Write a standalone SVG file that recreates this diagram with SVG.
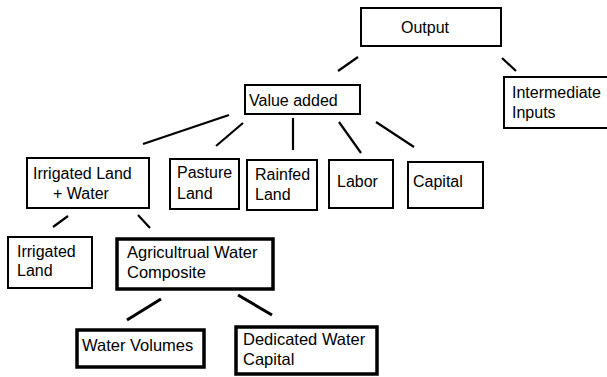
<svg xmlns="http://www.w3.org/2000/svg" width="607" height="377" viewBox="0 0 607 377">
<style>
.box{fill:#fff;stroke:#000;stroke-width:2}
.thick{fill:#fff;stroke:#000;stroke-width:3.5}
.t{font-family:"Liberation Sans",Arial,sans-serif;font-size:16px;fill:#000}
.tb{font-family:"Liberation Sans",Arial,sans-serif;font-size:16.5px;fill:#000}
.c line{stroke:#000;stroke-width:2.2;stroke-linecap:butt}
</style>
<rect width="607" height="377" fill="#fff"/>
<g class="c" id="connectors">
<line x1="358" y1="57" x2="338" y2="71"/>
<line x1="502" y1="58" x2="516" y2="71"/>
<line x1="229" y1="115" x2="143" y2="144"/>
<line x1="243" y1="123" x2="216" y2="146"/>
<line x1="293" y1="118" x2="293" y2="150"/>
<line x1="339" y1="122" x2="361" y2="153"/>
<line x1="376" y1="122" x2="414" y2="147"/>
<line x1="68" y1="216" x2="53" y2="227"/>
<line x1="138" y1="215" x2="150" y2="228"/>
<line x1="161" y1="299" x2="127" y2="320" style="stroke-width:3"/>
<line x1="238" y1="295" x2="272" y2="315" style="stroke-width:3"/>
</g>
<g id="output"><rect class="box" x="361" y="8" width="140" height="38"/><text class="t" x="425" y="33" text-anchor="middle">Output</text></g>
<g id="intermediate"><rect class="box" x="504" y="77" width="110" height="51"/><text class="t" x="512" y="98">Intermediate</text><text class="t" x="512" y="118">Inputs</text></g>
<g id="valueadded"><rect class="box" x="245" y="85" width="115" height="29"/><text class="t" x="249" y="106">Value added</text></g>
<g id="irrwater"><rect class="box" x="27" y="158" width="122" height="50"/><text class="t" x="33" y="179">Irrigated Land</text><text class="t" x="53" y="199">+ Water</text></g>
<g id="pasture"><rect class="box" x="170" y="159" width="69" height="50"/><text class="t" x="177" y="178">Pasture</text><text class="t" x="177" y="199">Land</text></g>
<g id="rainfed"><rect class="box" x="247" y="160" width="70" height="50"/><text class="t" x="255" y="180">Rainfed</text><text class="t" x="255" y="200">Land</text></g>
<g id="labor"><rect class="box" x="329" y="160" width="64" height="48"/><text class="t" x="337" y="187">Labor</text></g>
<g id="capital"><rect class="box" x="408" y="162" width="75" height="46"/><text class="t" x="413" y="187">Capital</text></g>
<g id="irrland"><rect class="box" x="8" y="237" width="84" height="51"/><text class="t" x="17" y="257">Irrigated</text><text class="t" x="17" y="276">Land</text></g>
<g id="awc"><rect class="thick" x="117" y="239" width="156" height="50"/><text class="tb" x="127" y="258">Agricultrual Water</text><text class="tb" x="127" y="278">Composite</text></g>
<g id="wv"><rect class="thick" x="77" y="330" width="127" height="37"/><text class="tb" x="82" y="351">Water Volumes</text></g>
<g id="dwc"><rect class="thick" x="236" y="327" width="141" height="47"/><text class="tb" x="243" y="345">Dedicated Water</text><text class="tb" x="243" y="365">Capital</text></g>
</svg>
